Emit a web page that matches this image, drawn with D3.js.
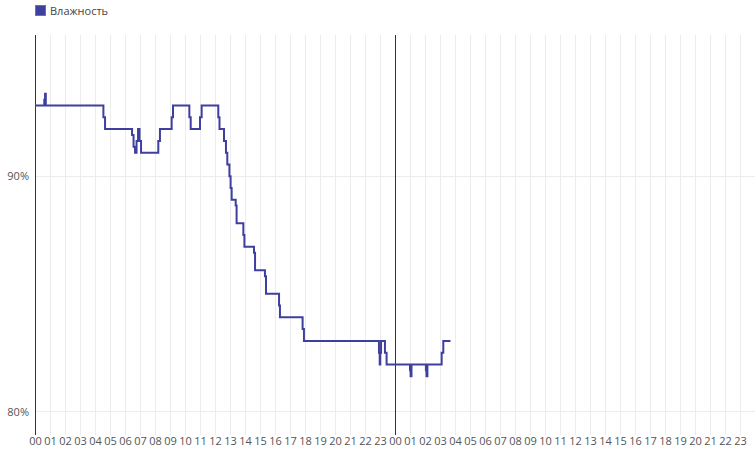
<!DOCTYPE html>
<html>
  <head>
    <meta charset="utf-8">
    <title>Влажность</title>
    <script src="https://d3js.org/d3.v7.min.js"></script>
    <style>
      body { margin: 0; background: #fff; font-family: "Open Sans", sans-serif; }
      .grid line { stroke: #ececec; stroke-width: 1; }
      .tick text { fill: #555; font-size: 11px; }
      .legend text { fill: #444; font-size: 11px; }
    </style>
  </head>
  <body>
    <svg id="chart" width="755" height="451"></svg>
    <script>
      // hours since the first midnight where the reading changes, and the reading itself (%)
      var hours = [0, 0.62, 0.67, 0.72, 4.56, 4.67, 6.47, 6.57, 6.67, 6.77, 6.87, 6.97, 7.07,
        8.22, 8.33, 9.11, 9.2, 10.29, 10.38, 11.0, 11.11, 12.22, 12.3,
        12.6, 12.73, 12.82, 12.96, 13.04, 13.11, 13.38, 13.44, 13.89, 13.96, 14.6, 14.67,
        15.33, 15.4, 16.27, 16.33, 17.84, 17.93,
        22.93, 22.98, 23.02, 23.07, 23.33, 23.44,
        25.0, 25.04, 25.1, 26.06, 26.1, 26.16, 27.11, 27.22, 27.7];
      var humidity = [93, 93.25, 93.5, 93, 92.5, 92, 91.75, 91.25, 91, 91.5, 92, 91.5, 91,
        91.5, 92, 92.5, 93, 92.5, 92, 92.5, 93, 92.5, 92,
        91.5, 91, 90.5, 90, 89.5, 89, 88.75, 88, 87.5, 87, 86.75, 86,
        85.75, 85, 84.5, 84, 83.5, 83,
        82.5, 82, 82.5, 83, 82.5, 82,
        81.75, 81.5, 82, 81.75, 81.5, 82, 82.5, 83, 83];
      var seriesName = "Влажность";
      var yTicks = [80, 90];
      var dayMarks = [0, 24];
      var hourTicks = d3.range(0, 48);

      var width = 755, height = 451;
      var margin = { top: 35, right: 0, bottom: 16, left: 35 };
      var colour = "#3e3f9f";

      var svg = d3.select("#chart");
      var x = d3.scaleLinear()
        .domain([0, 48])
        .range([margin.left, width - margin.right]);
      var y = d3.scaleLinear()
        .domain([79, 96])
        .range([height - margin.bottom, margin.top]);

      // grid
      var grid = svg.append("g").attr("class", "grid");
      grid.selectAll(".v")
          .data(hourTicks)
        .enter().append("line")
          .attr("x1", function(d) { return x(d) + 0.5; })
          .attr("x2", function(d) { return x(d) + 0.5; })
          .attr("y1", y.range()[1])
          .attr("y2", y.range()[0]);
      grid.selectAll(".h")
          .data(yTicks)
        .enter().append("line")
          .attr("x1", x.range()[0])
          .attr("x2", x.range()[1])
          .attr("y1", function(d) { return Math.round(y(d)) + 0.5; })
          .attr("y2", function(d) { return Math.round(y(d)) + 0.5; });

      // day boundaries
      svg.selectAll(".day")
          .data(dayMarks)
        .enter().append("line")
          .attr("x1", function(d) { return x(d) + 0.5; })
          .attr("x2", function(d) { return x(d) + 0.5; })
          .attr("y1", y.range()[1])
          .attr("y2", y.range()[0])
          .attr("stroke", "#333")
          .attr("stroke-width", 1);

      // axes
      var xAxis = d3.axisBottom(x)
        .tickValues(hourTicks)
        .tickFormat(function(d) { return d3.format("02d")(d % 24); })
        .tickSize(0)
        .tickPadding(2);
      svg.append("g")
        .attr("transform", "translate(0," + y.range()[0] + ")")
        .call(xAxis)
        .call(function(g) { g.select(".domain").remove(); })
        .selectAll("text")
          .attr("font-family", "Open Sans, sans-serif");
      var yAxis = d3.axisLeft(y)
        .tickValues(yTicks)
        .tickFormat(function(d) { return d + "%"; })
        .tickSize(0)
        .tickPadding(6);
      svg.append("g")
        .attr("transform", "translate(" + x.range()[0] + ",0)")
        .call(yAxis)
        .call(function(g) { g.select(".domain").remove(); })
        .selectAll("text")
          .attr("font-family", "Open Sans, sans-serif");

      // series
      var points = hours.map(function(h, i) { return [h, humidity[i]]; });
      var line = d3.line()
        .x(function(d) { return x(d[0]); })
        .y(function(d) { return y(d[1]); })
        .curve(d3.curveStepAfter);
      svg.append("path")
        .datum(points)
        .attr("d", line)
        .attr("fill", "none")
        .attr("stroke", colour)
        .attr("stroke-width", 2);

      // legend
      var legend = svg.append("g").attr("class", "legend");
      legend.append("rect")
        .attr("x", 35.5)
        .attr("y", 5.5)
        .attr("width", 10)
        .attr("height", 10)
        .attr("fill", colour)
        .attr("stroke", "#777");
      legend.append("text")
        .attr("x", 50)
        .attr("y", 15)
        .text(seriesName);
    </script>
  </body>
</html>
